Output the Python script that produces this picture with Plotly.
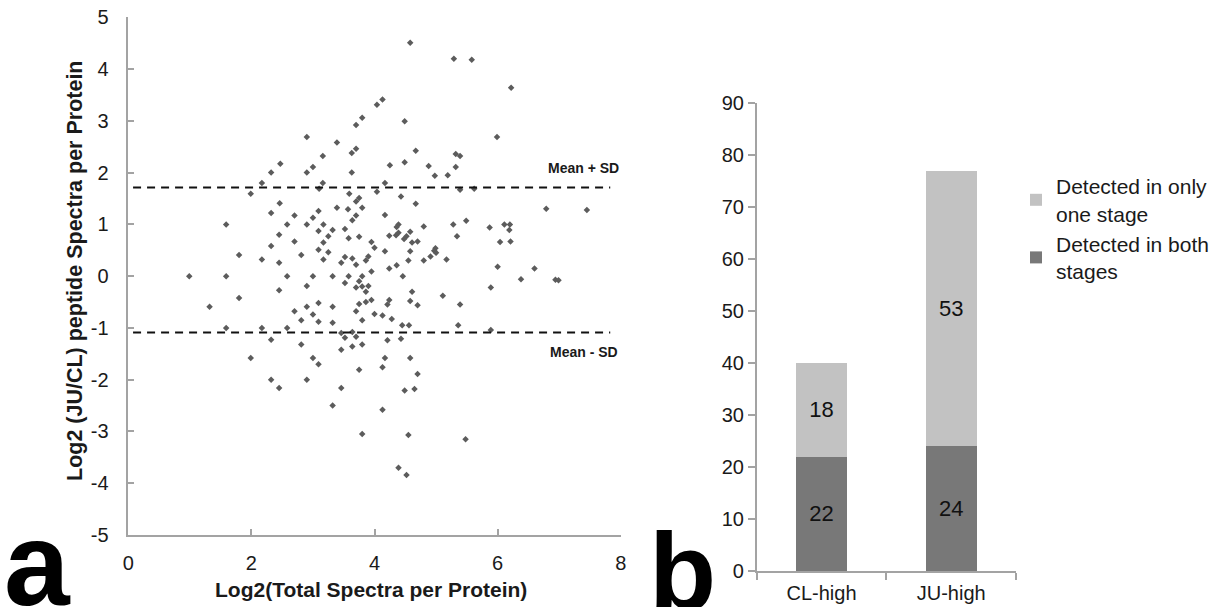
import plotly.graph_objects as go

# ---------------- data ----------------
x_total = [4.58, 5.29, 5.58, 6.22, 4.04, 4.13, 4.49, 5.99, 4.67, 4.25,
           4.49, 4.88, 4.98, 5.19, 5.32, 5.39, 5.32, 4.17, 4.04, 4.43,
           5.39, 5.62, 2.90, 3.39, 3.70, 3.80, 3.63, 3.70, 3.16, 3.00,
           2.90, 2.47, 2.32, 2.17, 1.99, 3.16, 3.10, 3.63, 3.59, 3.75,
           3.70, 4.67, 3.39, 3.57, 3.80, 2.46, 2.32, 2.70, 3.00, 3.09,
           3.70, 3.64, 1.59, 2.58, 2.90, 3.17, 3.09, 3.32, 2.45, 3.25,
           3.52, 3.58, 3.75, 2.70, 3.17, 2.32, 3.09, 3.25, 3.95, 4.00,
           1.80, 2.81, 2.17, 2.45, 3.17, 3.46, 3.52, 3.64, 3.70, 3.86,
           3.90, 3.95, 0.99, 1.59, 2.58, 3.00, 3.32, 3.58, 3.80, 3.52,
           3.75, 3.70, 3.80, 3.90, 3.86, 2.45, 2.90, 1.80, 1.32, 2.70,
           2.90, 3.09, 3.32, 3.00, 2.81, 3.09, 3.32, 3.75, 3.86, 3.95,
           4.00, 3.70, 3.80, 1.59, 2.17, 2.58, 3.46, 3.64, 3.52, 3.70,
           2.32, 2.81, 3.46, 3.64, 3.80, 1.99, 3.00, 3.09, 3.75, 2.32,
           2.90, 2.45, 3.46, 4.17, 4.39, 4.36, 4.39, 4.35, 4.24, 4.58,
           4.80, 4.52, 4.48, 4.61, 4.70, 4.17, 4.58, 4.24, 4.36, 4.55,
           4.80, 4.46, 4.61, 4.24, 4.21, 4.58, 4.70, 4.13, 4.28, 5.28,
           5.49, 5.34, 6.79, 7.45, 5.87, 6.11, 6.20, 6.19, 6.04, 6.21,
           4.91, 4.99, 4.97, 5.00, 5.17, 6.00, 6.60, 6.38, 6.94, 6.99,
           5.89, 5.11, 5.39, 4.45, 4.56, 5.36, 5.89, 4.21, 4.43, 4.17,
           4.58, 4.13, 4.70, 4.49, 4.65, 3.32, 4.13, 3.80, 4.55, 5.48,
           4.39, 4.52]

y_ratio = [4.51, 4.20, 4.18, 3.64, 3.31, 3.41, 2.99, 2.69, 2.42, 2.14,
           2.20, 2.13, 1.94, 1.95, 2.36, 2.32, 2.11, 1.80, 1.63, 1.54,
           1.67, 1.69, 2.69, 2.58, 2.92, 3.06, 2.38, 2.46, 2.32, 2.11,
           2.00, 2.17, 2.00, 1.80, 1.59, 1.80, 1.69, 2.00, 1.59, 1.51,
           1.44, 1.40, 1.32, 1.29, 1.32, 1.41, 1.22, 1.17, 1.13, 1.26,
           1.17, 1.08, 1.00, 1.00, 1.00, 1.00, 0.87, 0.89, 0.80, 0.77,
           0.91, 0.73, 0.76, 0.67, 0.65, 0.58, 0.51, 0.46, 0.66, 0.55,
           0.41, 0.41, 0.32, 0.26, 0.32, 0.26, 0.37, 0.34, 0.22, 0.30,
           0.38, 0.09, 0.00, 0.00, 0.00, 0.00, 0.00, 0.00, 0.00, -0.13,
           -0.10, -0.22, -0.20, -0.19, -0.30, -0.27, -0.19, -0.42, -0.59, -0.68,
           -0.59, -0.52, -0.59, -0.74, -0.85, -0.88, -0.90, -0.54, -0.50, -0.46,
           -0.73, -0.68, -0.85, -1.00, -1.00, -1.00, -1.10, -1.08, -1.19, -1.17,
           -1.23, -1.32, -1.42, -1.36, -1.32, -1.58, -1.58, -1.70, -1.81, -2.00,
           -2.00, -2.16, -2.16, 1.18, 1.00, 0.95, 0.84, 0.79, 0.78, 0.86,
           0.96, 0.77, 0.72, 0.65, 0.67, 0.48, 0.48, 0.15, 0.21, 0.30,
           0.30, 0.00, -0.30, -0.46, -0.55, -0.48, -0.56, -0.76, -0.83, 1.00,
           1.07, 0.77, 1.30, 1.28, 0.94, 1.00, 1.00, 0.89, 0.66, 0.67,
           0.38, 0.54, 0.49, 0.45, 0.32, 0.18, 0.15, -0.06, -0.07, -0.08,
           -0.22, -0.38, -0.55, -0.95, -0.95, -0.95, -1.04, -1.24, -1.21, -1.58,
           -1.58, -1.76, -1.89, -2.21, -2.18, -2.50, -2.58, -3.05, -3.07, -3.15,
           -3.70, -3.84]

mean_plus_sd = 1.71
mean_minus_sd = -1.09

x_ticks = [0, 2, 4, 6, 8]
y_ticks = [-5, -4, -3, -2, -1, 0, 1, 2, 3, 4, 5]

categories = ["CL-high", "JU-high"]
both_stages = [22, 24]
one_stage = [18, 53]
bar_ticks = [0, 10, 20, 30, 40, 50, 60, 70, 80, 90]

# ---------------- layout helpers ----------------
W, H = 1215, 607
FONT = "Liberation Sans, Arial, sans-serif"
AXIS_GRAY = "#a3a3a3"
TXT = "#1a1a1a"


def fx(px):
    return px / W


def fy(py):
    return 1 - py / H


fig = go.Figure()

fig.add_trace(go.Scatter(
    x=x_total, y=y_ratio, mode="markers",
    marker=dict(symbol="diamond", size=5, color="#5c5c5c"),
    xaxis="x", yaxis="y", showlegend=False))

fig.add_trace(go.Bar(
    x=categories, y=both_stages, name="Detected in both<br>stages",
    legendgroup="both", legendrank=2,
    marker=dict(color="#787878", line=dict(width=0)),
    text=both_stages, textposition="inside", insidetextanchor="middle",
    textfont=dict(size=22, color="#111111", family=FONT),
    xaxis="x2", yaxis="y2"))
fig.add_trace(go.Bar(
    x=categories, y=one_stage, name="Detected in only<br>one stage",
    legendgroup="one", legendrank=1,
    marker=dict(color="#c2c2c2", line=dict(width=0)),
    text=one_stage, textposition="inside", insidetextanchor="middle",
    textfont=dict(size=22, color="#111111", family=FONT),
    xaxis="x2", yaxis="y2"))

# dashed mean +/- SD lines
for val in (mean_plus_sd, mean_minus_sd):
    fig.add_shape(type="line", xref="x", yref="y", x0=-0.15, x1=7.83,
                  y0=val, y1=val,
                  line=dict(color="#111111", width=2, dash="8px,6px"))

common_axis = dict(showgrid=False, zeroline=False, showline=True,
                   automargin=False,
                   linecolor=AXIS_GRAY, linewidth=1.5, tickcolor=AXIS_GRAY,
                   tickwidth=1.5,
                   tickfont=dict(family=FONT, size=20, color=TXT))

fig.update_layout(
    width=W, height=H,
    margin=dict(l=0, r=0, t=0, b=0, autoexpand=False),
    paper_bgcolor="white", plot_bgcolor="white",
    font=dict(family=FONT, color=TXT),
    barmode="stack", bargap=0.605,
    xaxis=dict(domain=[fx(128.3), fx(620.7)], range=[0, 8],
               tickvals=x_ticks, ticktext=[str(v) for v in x_ticks],
               ticks="inside", ticklen=6,
               ticklabelstandoff=9, anchor="y", **common_axis),
    yaxis=dict(domain=[fy(535), fy(17.3)], range=[-5, 5],
               tickvals=y_ticks, ticktext=[str(v) for v in y_ticks],
               ticks="inside", ticklen=6,
               ticklabelstandoff=14, anchor="x", **common_axis),
    xaxis2=dict(domain=[fx(756.7), fx(1016)], type="category",
                ticks="outside", tickson="boundaries", ticklen=7,
                ticklabelstandoff=3,
                anchor="y2", **common_axis),
    yaxis2=dict(domain=[fy(571), fy(103)], range=[0, 90],
                tickvals=bar_ticks, ticktext=[str(v) for v in bar_ticks],
                ticks="outside", ticklen=7,
                anchor="x2", **common_axis),
    legend=dict(x=fx(1016), y=fy(166), xanchor="left", yanchor="top",
                traceorder="grouped", tracegroupgap=0,
                bgcolor="rgba(0,0,0,0)",
                font=dict(family=FONT, size=21, color=TXT),
                itemclick=False),
)

annotations = [
    dict(text="<b>Log2(Total Spectra per Protein)</b>", xref="paper", yref="paper",
         x=fx(371), y=fy(589), xanchor="center", yanchor="middle",
         showarrow=False, font=dict(family=FONT, size=21, color=TXT)),
    dict(text="<b>Log2 (JU/CL) peptide Spectra per Protein</b>", xref="paper",
         yref="paper", x=fx(75), y=fy(271), xanchor="center", yanchor="middle",
         textangle=-90, showarrow=False,
         font=dict(family=FONT, size=21.5, color=TXT)),
    dict(text="<b>Mean + SD</b>", xref="x", yref="y", x=7.39, y=2.09,
         xanchor="center", yanchor="middle", showarrow=False,
         font=dict(family=FONT, size=14, color=TXT)),
    dict(text="<b>Mean - SD</b>", xref="x", yref="y", x=7.40, y=-1.47,
         xanchor="center", yanchor="middle", showarrow=False,
         font=dict(family=FONT, size=14, color=TXT)),
    dict(text="<b>a</b>", xref="paper", yref="paper", x=fx(2), y=fy(564),
         xanchor="left", yanchor="middle", showarrow=False,
         font=dict(family=FONT, size=118, color="#000000")),
    dict(text="<b>b</b>", xref="paper", yref="paper", x=fx(647), y=fy(570),
         xanchor="left", yanchor="middle", showarrow=False,
         font=dict(family=FONT, size=110, color="#000000")),
]
fig.update_layout(annotations=annotations)

fig.write_html("out.html",
               config={"displayModeBar": False},
               post_script="document.body.style.margin='0px';"
                           "document.body.style.overflow='hidden';")
